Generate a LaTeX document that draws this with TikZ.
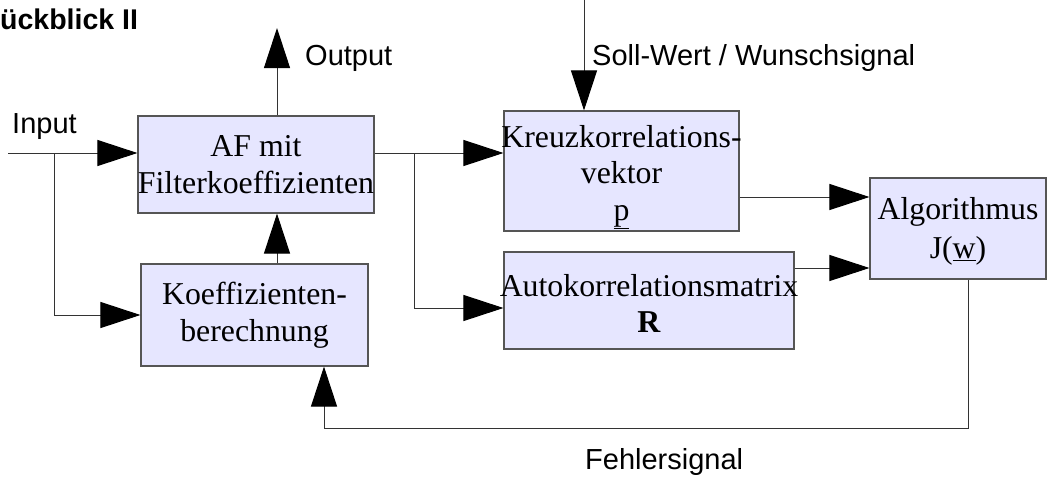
\documentclass[tikz,border=0pt]{standalone}
\usepackage{fontspec}
\setmainfont{Liberation Serif}
\setsansfont{Liberation Sans}
\usetikzlibrary{arrows.meta,calc}
\definecolor{boxfill}{HTML}{E6E6FF}
\definecolor{boxline}{HTML}{555555}
\definecolor{wire}{HTML}{333333}
\begin{document}
\begin{tikzpicture}[x=1pt,y=-1pt,
  blk/.style={draw=boxline,fill=boxfill,line width=1.1pt,inner sep=0pt,
    align=center,font=\fontsize{31.8}{36.5}\selectfont},
  lbl/.style={anchor=base west,inner sep=0pt,font=\sffamily\fontsize{29}{34}\selectfont},
  arr/.style={draw=wire,line width=1pt,-{Triangle[length=40pt,width=26pt,fill=black,color=black]}},
  wire/.style={draw=wire,line width=1pt}]
\useasboundingbox (0,0) rectangle (1048,477);

% blocks
\node[blk,minimum width=228pt,minimum height=97pt] (af) at (256,164.5)
  {AF mit\\Filterkoeffizienten};
\node[blk,minimum width=227pt,minimum height=102pt] (koeff) at (254.5,315)
  {Koeffizienten-\\berechnung};
\node[blk,minimum width=235pt,minimum height=120pt] (kreuz) at (621.5,171)
  {\rule{0pt}{34pt}\makebox[0pt]{Kreuzkorrelations-}\\vektor\\\underline{p}};
\node[blk,minimum width=290pt,minimum height=97pt] (auto) at (649,300.5)
  {\rule{0pt}{28pt}\makebox[0pt]{Autokorrelationsmatrix}\\\textbf{R}};
\node[blk,minimum width=176pt,minimum height=101pt] (alg) at (958,228.5)
  {\rule{0pt}{28pt}Algorithmus\\[3pt]J(\underline{w})};

% labels
\node[lbl,font=\sffamily\bfseries\fontsize{28.5}{34}\selectfont] (title) at (0,29) {ückblick II};
\node[lbl] (lin) at (12,133) {Input};
\node[lbl] (lout) at (305,65) {Output};
\node[lbl] (lsoll) at (592,65) {Soll-Wert / Wunschsignal};
\node[lbl] (lerr) at (585,469) {Fehlersignal};

% wire end points and junctions
\coordinate (in) at (8,153);
\coordinate (inb) at (54,153);
\coordinate (outx) at (277,28);
\coordinate (br) at (414,153);
\coordinate (soll) at (584,0);
\coordinate (kline) at (0,197);
\coordinate (aline) at (0,268);
\coordinate (fbr) at (968,428);
\coordinate (fbl) at (324,428);

% connectors
\draw[arr] (in) -- (af.west |- in);
\draw[arr] (inb) |- (koeff.west);
\draw[arr] (af.north -| outx) -- (outx);
\draw[arr] (koeff.north -| outx) -- (af.south -| outx);
\draw[arr] (af.east |- in) -- (kreuz.west |- in);
\draw[arr] (br) |- ([yshift=-7.5pt]auto.west);
\draw[arr] (soll) -- (kreuz.north -| soll);
\draw[arr] (kreuz.east |- kline) -- (alg.west |- kline);
\draw[arr] (auto.east |- aline) -- (alg.west |- aline);
\draw[arr] (alg.south -| fbr) -- (fbr) -- (fbl) -- (koeff.south -| fbl);
\end{tikzpicture}
\end{document}
